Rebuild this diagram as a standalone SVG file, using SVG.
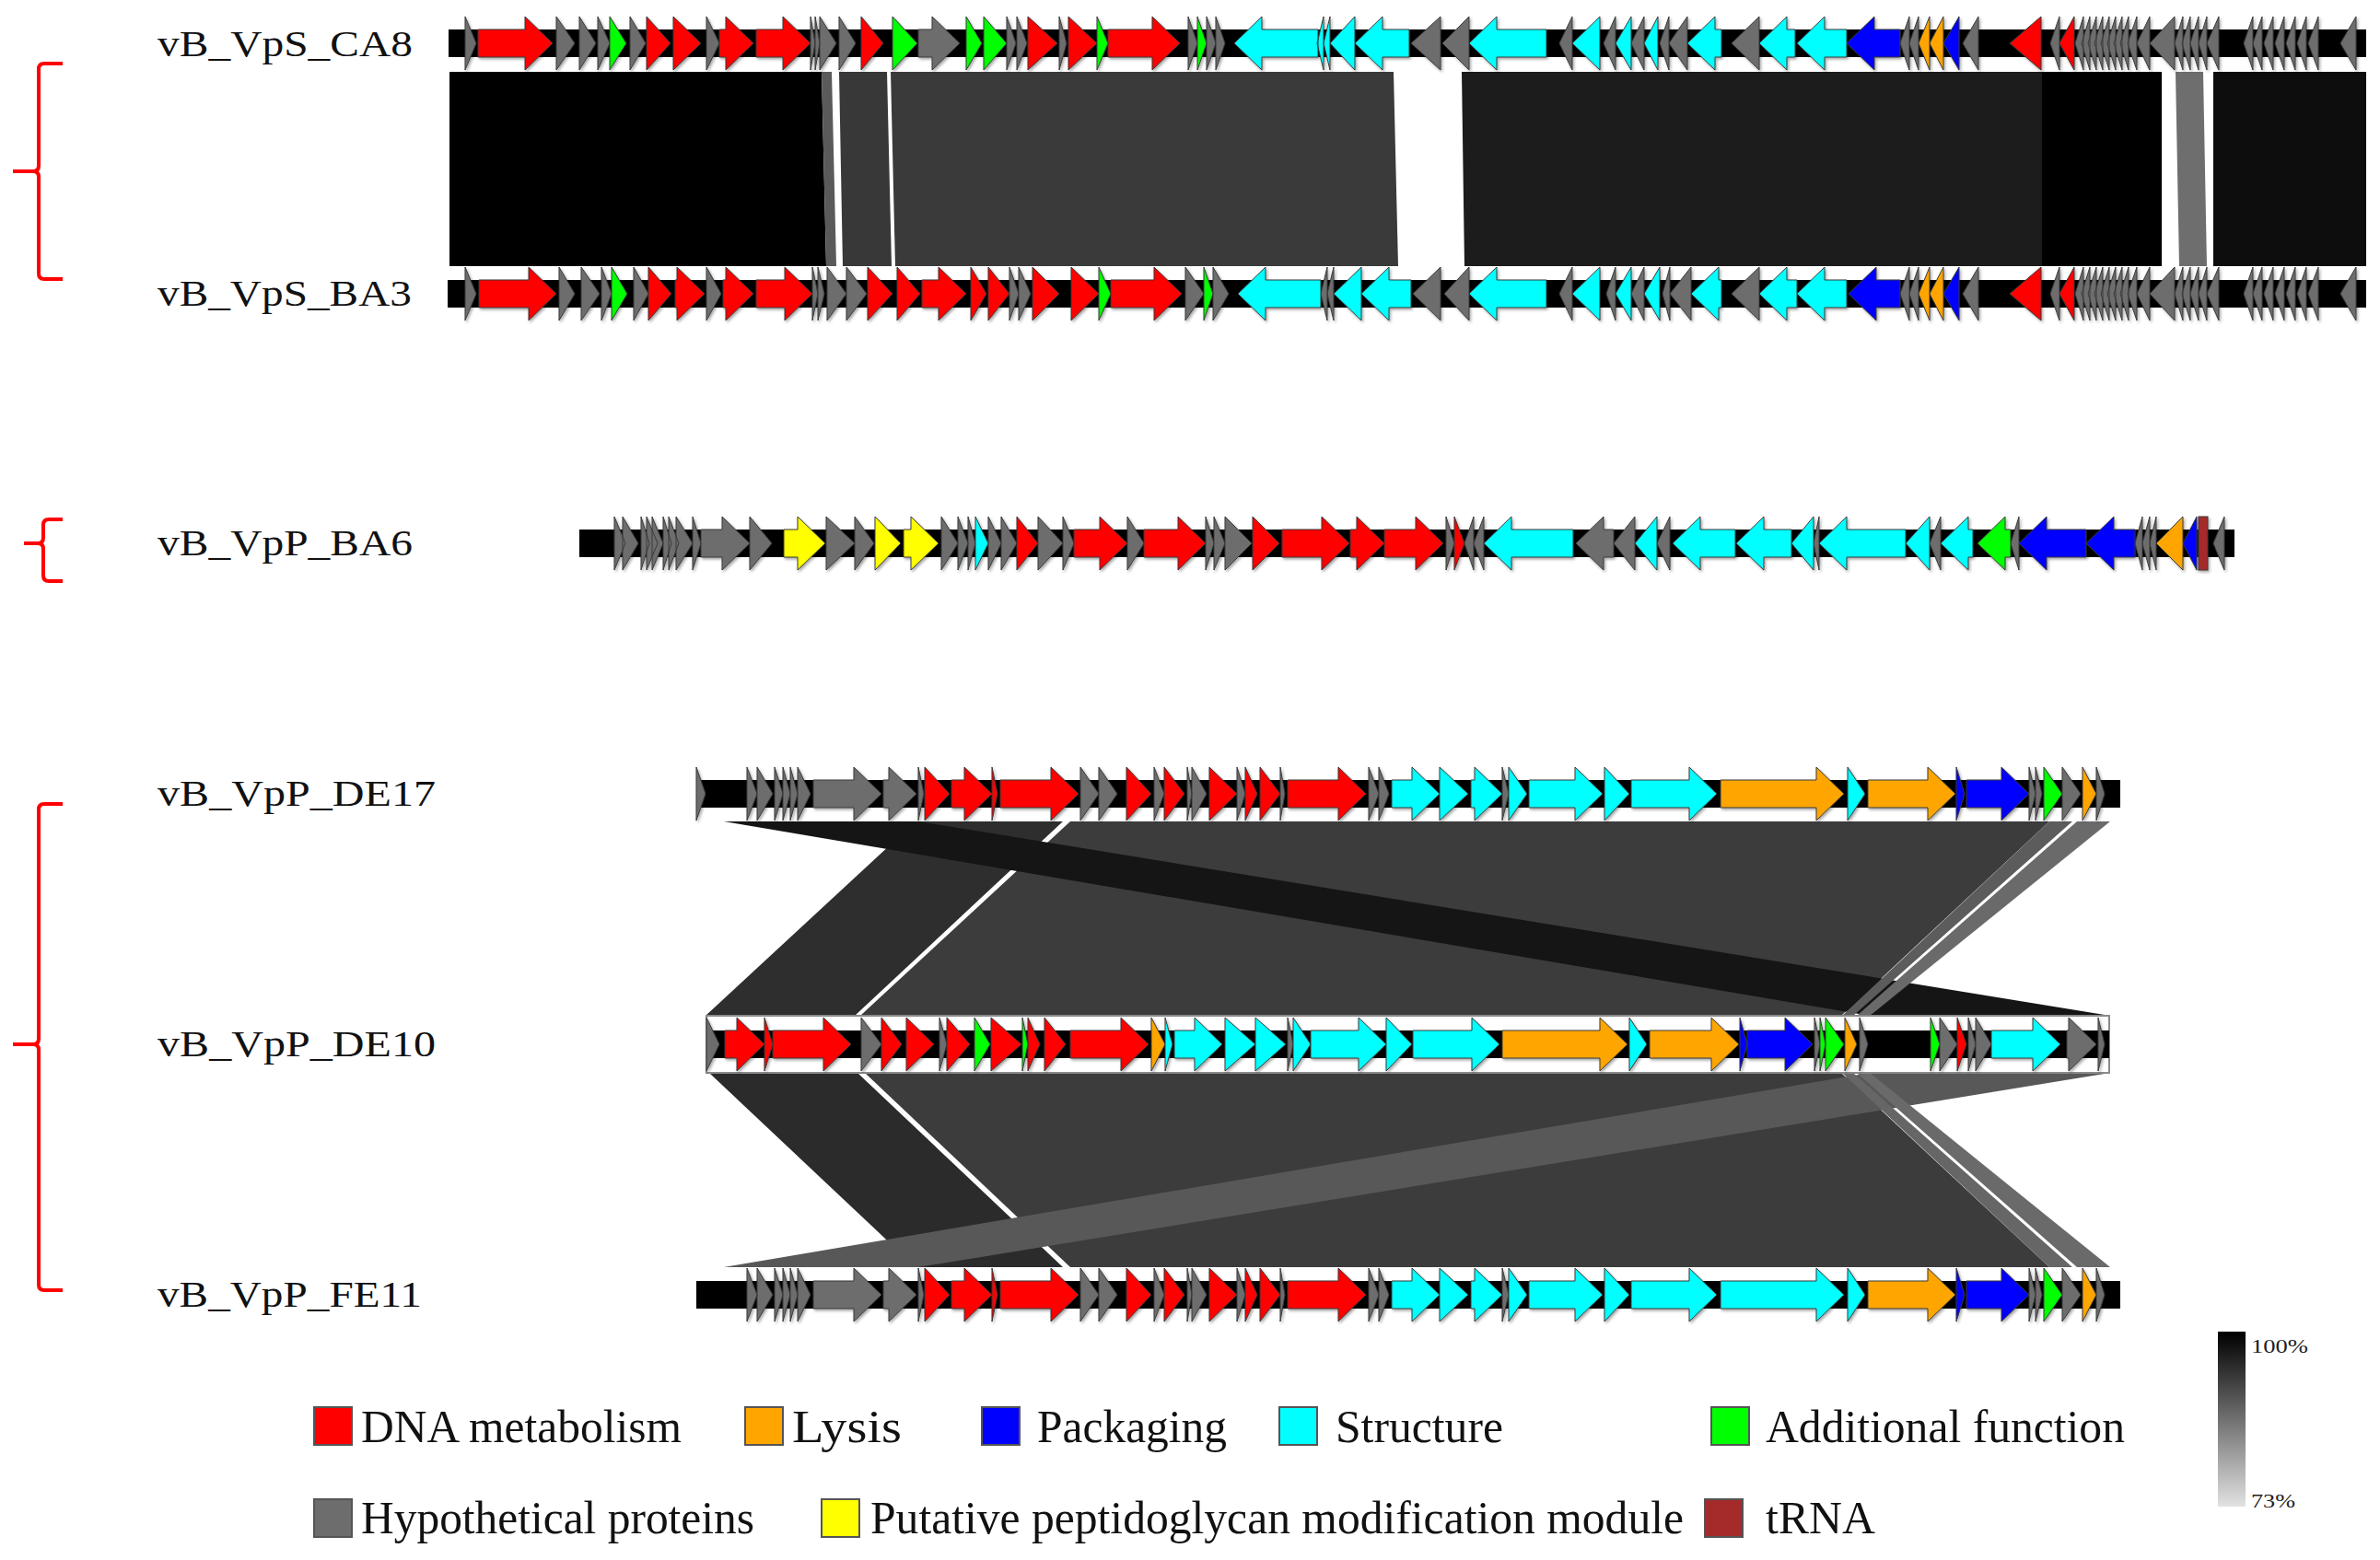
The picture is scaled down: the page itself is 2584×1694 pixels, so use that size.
<svg xmlns="http://www.w3.org/2000/svg" width="2584" height="1694" viewBox="0 0 2584 1694">
<defs>
<style>
.lbl{font-family:"Liberation Serif","Times New Roman",serif;font-size:40px;fill:#111;}
.leg{font-family:"Liberation Serif","Times New Roman",serif;font-size:50px;fill:#111;}
.pct{font-family:"Liberation Serif","Times New Roman",serif;font-size:22px;fill:#222;}
.bar{fill:#000;}
.genes path,.genes rect{stroke:#3a3a3a;stroke-width:1;stroke-linejoin:miter;}
.hy{fill:#6d6d6d;}
.dn{fill:#ff0000;}
.ad{fill:#00ff00;}
.st{fill:#00ffff;}
.pk{fill:#0000ff;}
.ly{fill:#ffa500;}
.pg{fill:#ffff00;}
.tr{fill:#a52a2a;}
.brk{fill:none;stroke:#ff0000;stroke-width:4;stroke-linecap:butt;}
.sq{stroke:#555;stroke-width:2;}
</style>
<filter id="sh" x="-2%" y="-30%" width="104%" height="160%">
<feDropShadow dx="1.5" dy="2" stdDeviation="1.5" flood-color="#000" flood-opacity="0.35"/>
</filter>
<linearGradient id="scale" x1="0" y1="0" x2="0" y2="1">
<stop offset="0" stop-color="#000"/>
<stop offset="0.08" stop-color="#111"/>
<stop offset="0.5" stop-color="#707070"/>
<stop offset="1" stop-color="#e2e2e2"/>
</linearGradient>
</defs>
<rect width="2584" height="1694" fill="#fff"/>

<!-- brackets -->
<g id="brackets">
<path class="brk" d="M68 69 H48 Q42 69 42 75 V180 Q42 186 36 186 H14 M36 186 Q42 186 42 192 V297 Q42 303 48 303 H68"/>
<path class="brk" d="M68 564 H53 Q47 564 47 570 V584 Q47 590 41 590 H26 M41 590 Q47 590 47 596 V625 Q47 631 53 631 H68"/>
<path class="brk" d="M68 873 H48 Q42 873 42 879 V1128 Q42 1134 36 1134 H14 M36 1134 Q42 1134 42 1140 V1395 Q42 1401 48 1401 H68"/>
</g>

<!-- connectors: alignment bands -->
<g id="connectors">
<polygon points="488,78 892,78 897,289 488,289" fill="#000"/>
<polygon points="892,78 903,78 908,289 897,289" fill="#5a5a5a"/>
<polygon points="911,78 963,78 968,289 915,289" fill="#383838"/>
<polygon points="967,78 1513,78 1518,289 972,289" fill="#3a3a3a"/>
<polygon points="1587,78 2217,78 2217,289 1590,289" fill="#1c1c1c"/>
<polygon points="2217,78 2347,78 2347,289 2217,289" fill="#000"/>
<polygon points="2362,78 2392,78 2396,289 2366,289" fill="#6e6e6e"/>
<polygon points="2403,78 2569,78 2569,289 2403,289" fill="#0d0d0d"/>

<polygon points="994,892 1154,892 928,1103 766,1103" fill="#2e2e2e"/>
<polygon points="1162,892 2225,892 1999,1103 934,1103" fill="#3c3c3c"/>
<polygon points="786,892 997,892 2291,1103 2030,1103" fill="#151515"/>
<polygon points="2225,892 2250,892 2012,1103 2000,1103" fill="#5c5c5c"/>
<polygon points="2255,892 2291,892 2030,1103 2016,1103" fill="#6a6a6a"/>

<polygon points="770,1165 931,1165 1154,1376 994,1376" fill="#2b2b2b"/>
<polygon points="939,1165 1999,1165 2225,1376 1162,1376" fill="#3c3c3c"/>
<polygon points="2030,1165 2291,1165 997,1376 786,1376" fill="#585858"/>
<polygon points="2000,1165 2012,1165 2250,1376 2225,1376" fill="#666"/>
<polygon points="2016,1165 2030,1165 2291,1376 2255,1376" fill="#6a6a6a"/>
</g>

<!-- CA8 -->
<g id="CA8">
<text class="lbl" x="171" y="61" textLength="277" lengthAdjust="spacingAndGlyphs">vB_VpS_CA8</text>
<g transform="translate(0,47)">
<rect class="bar" x="487" y="-15" width="2082" height="30"/>
<g class="genes" filter="url(#sh)">
<path class="hy" d="M505 -29L517 0L505 29Z M604 -29L624 0L604 29Z M629 -29L647 0L629 29Z M649 -29L662 0L649 29Z M684 -29L701 0L684 29Z M767 -29L781 0L767 29Z M880 -29L885 0L880 29Z M885 -29L890 0L885 29Z M890 -29L908 0L890 29Z M911 -29L929 0L911 29Z M997 -15H1012V-29L1042 0L1012 29V15H997Z M1093 -29L1103 0L1093 29Z M1104 -29L1115 0L1104 29Z M1150 -29L1158 0L1150 29Z M1290 -29L1300 0L1290 29Z M1310 -29L1320 0L1310 29Z M1320 -29L1330 0L1320 29Z M1564 -29L1532 0L1564 29Z M1595 -29L1566 0L1595 29Z M1707 -29L1693 0L1707 29Z M1754 -29L1741 0L1754 29Z M1785 -29L1771 0L1785 29Z M1812 -29L1802 0L1812 29Z M1832 -29L1812 0L1832 29Z M1910 -29L1880 0L1910 29Z M2073 -29L2063 0L2073 29Z M2083 -29L2073 0L2083 29Z M2148 -29L2131 0L2148 29Z M2236 -29L2226 0L2236 29Z M2262 -29L2253 0L2262 29Z M2269 -29L2260 0L2269 29Z M2276 -29L2267 0L2276 29Z M2283 -29L2274 0L2283 29Z M2290 -29L2281 0L2290 29Z M2297 -29L2288 0L2297 29Z M2304 -29L2295 0L2304 29Z M2311 -29L2302 0L2311 29Z M2320 -29L2310 0L2320 29Z M2334 -29L2320 0L2334 29Z M2361 -29L2334 0L2361 29Z M2370 -29L2361 0L2370 29Z M2378 -29L2369 0L2378 29Z M2387 -29L2378 0L2387 29Z M2396 -29L2387 0L2396 29Z M2409 -29L2396 0L2409 29Z M2446 -29L2436 0L2446 29Z M2456 -29L2446 0L2456 29Z M2468 -29L2458 0L2468 29Z M2480 -29L2470 0L2480 29Z M2492 -29L2482 0L2492 29Z M2504 -29L2494 0L2504 29Z M2517 -29L2506 0L2517 29Z M2558 -29L2541 0L2558 29Z"/>
<path class="dn" d="M519 -15H570V-29L600 0L570 29V15H519Z M702 -29L728 0L702 29Z M731 -29L761 0L731 29Z M781 -15H788V-29L818 0L788 29V15H781Z M821 -15H850V-29L880 0L850 29V15H821Z M935 -29L959 0L935 29Z M1116 -29L1148 0L1116 29Z M1160 -29L1191 0L1160 29Z M1203 -15H1251V-29L1281 0L1251 29V15H1203Z M2216 -29L2182 0L2216 29Z M2252 -29L2236 0L2252 29Z"/>
<path class="ad" d="M662 -29L680 0L662 29Z M969 -29L996 0L969 29Z M1049 -29L1066 0L1049 29Z M1068 -29L1093 0L1068 29Z M1191 -29L1203 0L1191 29Z M1300 -29L1310 0L1300 29Z"/>
<path class="st" d="M1431 -15H1370V-29L1340 0L1370 29V15H1431Z M1437 -29L1430 0L1437 29Z M1444 -29L1437 0L1444 29Z M1471 -29L1444 0L1471 29Z M1530 -15H1501V-29L1471 0L1501 29V15H1530Z M1679 -15H1625V-29L1595 0L1625 29V15H1679Z M1737 -29L1707 0L1737 29Z M1771 -29L1754 0L1771 29Z M1800 -29L1785 0L1800 29Z M1869 -15H1862V-29L1832 0L1862 29V15H1869Z M1949 -15H1940V-29L1910 0L1940 29V15H1949Z M2005 -15H1981V-29L1951 0L1981 29V15H2005Z"/>
<path class="pk" d="M2063 -15H2035V-29L2005 0L2035 29V15H2063Z M2127 -29L2110 0L2127 29Z"/>
<path class="ly" d="M2095 -29L2083 0L2095 29Z M2110 -29L2095 0L2110 29Z"/>
</g>
</g>
</g>

<!-- BA3 -->
<g id="BA3">
<text class="lbl" x="171" y="332" textLength="276" lengthAdjust="spacingAndGlyphs">vB_VpS_BA3</text>
<g transform="translate(0,319)">
<rect class="bar" x="486" y="-15" width="2083" height="30"/>
<g class="genes" filter="url(#sh)">
<path class="hy" d="M505 -29L517 0L505 29Z M607 -29L624 0L607 29Z M631 -29L651 0L631 29Z M653 -29L664 0L653 29Z M688 -29L704 0L688 29Z M767 -29L783 0L767 29Z M882 -29L888 0L882 29Z M888 -29L895 0L888 29Z M898 -29L919 0L898 29Z M919 -29L941 0L919 29Z M1096 -29L1106 0L1096 29Z M1106 -29L1119 0L1106 29Z M1287 -29L1307 0L1287 29Z M1317 -29L1334 0L1317 29Z M1441 -29L1434 0L1441 29Z M1448 -29L1441 0L1448 29Z M1564 -29L1534 0L1564 29Z M1595 -29L1568 0L1595 29Z M1707 -29L1693 0L1707 29Z M1754 -29L1744 0L1754 29Z M1785 -29L1771 0L1785 29Z M1813 -29L1805 0L1813 29Z M1836 -29L1813 0L1836 29Z M1910 -29L1880 0L1910 29Z M2073 -29L2063 0L2073 29Z M2083 -29L2073 0L2083 29Z M2148 -29L2131 0L2148 29Z M2236 -29L2226 0L2236 29Z M2262 -29L2253 0L2262 29Z M2269 -29L2260 0L2269 29Z M2276 -29L2267 0L2276 29Z M2283 -29L2274 0L2283 29Z M2290 -29L2281 0L2290 29Z M2297 -29L2288 0L2297 29Z M2304 -29L2295 0L2304 29Z M2311 -29L2302 0L2311 29Z M2320 -29L2310 0L2320 29Z M2334 -29L2320 0L2334 29Z M2361 -29L2334 0L2361 29Z M2370 -29L2361 0L2370 29Z M2378 -29L2369 0L2378 29Z M2387 -29L2378 0L2387 29Z M2396 -29L2387 0L2396 29Z M2409 -29L2396 0L2409 29Z M2446 -29L2436 0L2446 29Z M2456 -29L2446 0L2456 29Z M2468 -29L2458 0L2468 29Z M2480 -29L2470 0L2480 29Z M2492 -29L2482 0L2492 29Z M2504 -29L2494 0L2504 29Z M2517 -29L2506 0L2517 29Z M2558 -29L2541 0L2558 29Z"/>
<path class="dn" d="M520 -15H574V-29L604 0L574 29V15H520Z M704 -29L729 0L704 29Z M733 -15H735V-29L765 0L735 29V15H733Z M785 -15H788V-29L818 0L788 29V15H785Z M821 -15H852V-29L882 0L852 29V15H821Z M942 -29L969 0L942 29Z M974 -29L999 0L974 29Z M1001 -15H1019V-29L1049 0L1019 29V15H1001Z M1054 -29L1071 0L1054 29Z M1073 -29L1096 0L1073 29Z M1121 -29L1150 0L1121 29Z M1163 -29L1193 0L1163 29Z M1206 -15H1253V-29L1283 0L1253 29V15H1206Z M2216 -29L2182 0L2216 29Z M2252 -29L2236 0L2252 29Z"/>
<path class="ad" d="M664 -29L681 0L664 29Z M1193 -29L1206 0L1193 29Z M1307 -29L1317 0L1307 29Z"/>
<path class="st" d="M1434 -15H1374V-29L1344 0L1374 29V15H1434Z M1478 -29L1448 0L1478 29Z M1532 -15H1508V-29L1478 0L1508 29V15H1532Z M1679 -15H1625V-29L1595 0L1625 29V15H1679Z M1737 -29L1707 0L1737 29Z M1771 -29L1754 0L1771 29Z M1802 -29L1785 0L1802 29Z M1869 -15H1866V-29L1836 0L1866 29V15H1869Z M1951 -15H1940V-29L1910 0L1940 29V15H1951Z M2005 -15H1981V-29L1951 0L1981 29V15H2005Z"/>
<path class="pk" d="M2063 -15H2037V-29L2007 0L2037 29V15H2063Z M2127 -29L2110 0L2127 29Z"/>
<path class="ly" d="M2095 -29L2083 0L2095 29Z M2110 -29L2095 0L2110 29Z"/>
</g>
</g>
</g>

<!-- BA6 -->
<g id="BA6">
<text class="lbl" x="171" y="603" textLength="277" lengthAdjust="spacingAndGlyphs">vB_VpP_BA6</text>
<g transform="translate(0,590)">
<rect class="bar" x="629" y="-15" width="1797" height="30"/>
<g class="genes" filter="url(#sh)">
<path class="hy" d="M667 -29L679 0L667 29Z M676 -29L693 0L676 29Z M696 -29L705 0L696 29Z M702 -29L714 0L702 29Z M708 -29L720 0L708 29Z M720 -29L729 0L720 29Z M726 -29L737 0L726 29Z M734 -29L752 0L734 29Z M752 -29L761 0L752 29Z M761 -15H784V-29L814 0L784 29V15H761Z M814 -29L838 0L814 29Z M897 -29L928 0L897 29Z M928 -29L949 0L928 29Z M1022 -29L1040 0L1022 29Z M1040 -29L1051 0L1040 29Z M1051 -29L1059 0L1051 29Z M1073 -29L1087 0L1073 29Z M1087 -29L1104 0L1087 29Z M1127 -29L1154 0L1127 29Z M1154 -29L1166 0L1154 29Z M1224 -29L1242 0L1224 29Z M1309 -29L1318 0L1309 29Z M1318 -29L1330 0L1318 29Z M1330 -29L1359 0L1330 29Z M1570 -29L1579 0L1570 29Z M1600 -29L1590 0L1600 29Z M1611 -29L1600 0L1611 29Z M1752 -15H1741V-29L1711 0L1741 29V15H1752Z M1775 -29L1752 0L1775 29Z M1813 -29L1799 0L1813 29Z M1975 -29L1969 0L1975 29Z M2107 -29L2095 0L2107 29Z M2192 -29L2183 0L2192 29Z M2326 -29L2318 0L2326 29Z M2334 -29L2326 0L2334 29Z M2341 -29L2334 0L2341 29Z M2415 -29L2403 0L2415 29Z"/>
<path class="pg" d="M851 -15H866V-29L896 0L866 29V15H851Z M950 -29L978 0L950 29Z M981 -15H989V-29L1019 0L989 29V15H981Z"/>
<path class="st" d="M1059 -29L1073 0L1059 29Z M1708 -15H1641V-29L1611 0L1641 29V15H1708Z M1799 -29L1775 0L1799 29Z M1884 -15H1846V-29L1816 0L1846 29V15H1884Z M1945 -15H1915V-29L1885 0L1915 29V15H1945Z M1969 -29L1945 0L1969 29Z M2069 -15H2005V-29L1975 0L2005 29V15H2069Z M2095 -29L2069 0L2095 29Z M2142 -15H2137V-29L2107 0L2137 29V15H2142Z"/>
<path class="dn" d="M1104 -29L1127 0L1104 29Z M1166 -15H1194V-29L1224 0L1194 29V15H1166Z M1242 -15H1279V-29L1309 0L1279 29V15H1242Z M1360 -29L1389 0L1360 29Z M1392 -15H1435V-29L1465 0L1435 29V15H1392Z M1466 -15H1473V-29L1503 0L1473 29V15H1466Z M1503 -15H1537V-29L1567 0L1537 29V15H1503Z M1579 -29L1590 0L1579 29Z"/>
<path class="ad" d="M2183 -15H2177V-29L2147 0L2177 29V15H2183Z"/>
<path class="pk" d="M2265 -15H2222V-29L2192 0L2222 29V15H2265Z M2318 -15H2295V-29L2265 0L2295 29V15H2318Z M2385 -29L2370 0L2385 29Z"/>
<path class="ly" d="M2370 -29L2341 0L2370 29Z"/>
<rect class="tr" x="2387" y="-29" width="10" height="58"/>
</g>
</g>
</g>

<!-- DE17 -->
<g id="DE17">
<text class="lbl" x="171" y="875" textLength="302" lengthAdjust="spacingAndGlyphs">vB_VpP_DE17</text>
<g transform="translate(0,862)">
<rect class="bar" x="756" y="-15" width="1546" height="30"/>
<g class="genes" filter="url(#sh)">
<path class="hy" d="M756 -29L766 0L756 29Z M811 -29L822 0L811 29Z M822 -29L839 0L822 29Z M841 -29L850 0L841 29Z M850 -29L858 0L850 29Z M858 -29L866 0L858 29Z M866 -29L880 0L866 29Z M883 -15H927V-29L957 0L927 29V15H883Z M959 -15H965V-29L995 0L965 29V15H959Z M997 -29L1003 0L997 29Z M1173 -29L1193 0L1173 29Z M1193 -29L1213 0L1193 29Z M1253 -29L1264 0L1253 29Z M1289 -29L1294 0L1289 29Z M1294 -29L1310 0L1294 29Z M1343 -29L1352 0L1343 29Z M1390 -29L1395 0L1390 29Z M1486 -29L1497 0L1486 29Z M1497 -29L1508 0L1497 29Z M1631 -29L1638 0L1631 29Z M2203 -29L2210 0L2203 29Z M2210 -29L2217 0L2210 29Z M2239 -29L2259 0L2239 29Z M2276 -29L2285 0L2276 29Z"/>
<path class="dn" d="M1004 -29L1031 0L1004 29Z M1033 -15H1047V-29L1077 0L1047 29V15H1033Z M1077 -29L1083 0L1077 29Z M1086 -15H1141V-29L1171 0L1141 29V15H1086Z M1223 -29L1250 0L1223 29Z M1264 -29L1286 0L1264 29Z M1313 -29L1343 0L1313 29Z M1352 -29L1365 0L1352 29Z M1368 -29L1390 0L1368 29Z M1398 -15H1453V-29L1483 0L1453 29V15H1398Z"/>
<path class="st" d="M1511 -15H1533V-29L1563 0L1533 29V15H1511Z M1563 -29L1594 0L1563 29Z M1597 -15H1601V-29L1631 0L1601 29V15H1597Z M1638 -29L1658 0L1638 29Z M1660 -15H1710V-29L1740 0L1710 29V15H1660Z M1742 -29L1769 0L1742 29Z M1771 -15H1834V-29L1864 0L1834 29V15H1771Z M2006 -29L2025 0L2006 29Z"/>
<path class="ly" d="M1868 -15H1972V-29L2002 0L1972 29V15H1868Z M2028 -15H2093V-29L2123 0L2093 29V15H2028Z M2261 -29L2276 0L2261 29Z"/>
<path class="pk" d="M2124 -29L2133 0L2124 29Z M2135 -15H2173V-29L2203 0L2173 29V15H2135Z"/>
<path class="ad" d="M2219 -29L2239 0L2219 29Z"/>
</g>
</g>
</g>

<!-- DE10 -->
<g id="DE10">
<text class="lbl" x="171" y="1147" textLength="302" lengthAdjust="spacingAndGlyphs">vB_VpP_DE10</text>
<g transform="translate(0,1134)">
<rect x="767" y="-31" width="1523" height="62" fill="#fff" stroke="#8a8a8a" stroke-width="2"/>
<rect class="bar" x="767" y="-15" width="1523" height="30"/>
<g class="genes" filter="url(#sh)">
<path class="hy" d="M767 -29L781 0L767 29Z M935 -29L957 0L935 29Z M1020 -29L1028 0L1020 29Z M1398 -29L1404 0L1398 29Z M1970 -29L1976 0L1970 29Z M2019 -29L2028 0L2019 29Z M2106 -29L2125 0L2106 29Z M2137 -29L2145 0L2137 29Z M2145 -29L2162 0L2145 29Z M2244 -15H2246V-29L2276 0L2246 29V15H2244Z M2278 -29L2285 0L2278 29Z"/>
<path class="dn" d="M787 -15H800V-29L830 0L800 29V15H787Z M830 -29L839 0L830 29Z M839 -15H894V-29L924 0L894 29V15H839Z M957 -29L979 0L957 29Z M984 -29L1014 0L984 29Z M1028 -29L1053 0L1028 29Z M1076 -29L1109 0L1076 29Z M1116 -29L1129 0L1116 29Z M1134 -29L1157 0L1134 29Z M1162 -15H1217V-29L1247 0L1217 29V15H1162Z M2125 -29L2135 0L2125 29Z"/>
<path class="ad" d="M1058 -29L1075 0L1058 29Z M1110 -29L1116 0L1110 29Z M1976 -29L1982 0L1976 29Z M1982 -29L2002 0L1982 29Z M2096 -29L2106 0L2096 29Z"/>
<path class="ly" d="M1250 -29L1265 0L1250 29Z M1631 -15H1737V-29L1767 0L1737 29V15H1631Z M1791 -15H1858V-29L1888 0L1858 29V15H1791Z M2003 -29L2016 0L2003 29Z"/>
<path class="st" d="M1265 -29L1273 0L1265 29Z M1275 -15H1297V-29L1327 0L1297 29V15H1275Z M1330 -29L1363 0L1330 29Z M1363 -29L1396 0L1363 29Z M1404 -29L1423 0L1404 29Z M1423 -15H1475V-29L1505 0L1475 29V15H1423Z M1505 -29L1533 0L1505 29Z M1534 -15H1598V-29L1628 0L1598 29V15H1534Z M1769 -29L1788 0L1769 29Z M2162 -15H2207V-29L2237 0L2207 29V15H2162Z"/>
<path class="pk" d="M1889 -29L1897 0L1889 29Z M1897 -15H1938V-29L1968 0L1938 29V15H1897Z"/>
</g>
</g>
</g>

<!-- FE11 -->
<g id="FE11">
<text class="lbl" x="171" y="1419" textLength="287" lengthAdjust="spacingAndGlyphs">vB_VpP_FE11</text>
<g transform="translate(0,1406)">
<rect class="bar" x="756" y="-15" width="1546" height="30"/>
<g class="genes" filter="url(#sh)">
<path class="hy" d="M811 -29L822 0L811 29Z M822 -29L839 0L822 29Z M841 -29L850 0L841 29Z M850 -29L858 0L850 29Z M858 -29L866 0L858 29Z M866 -29L880 0L866 29Z M883 -15H927V-29L957 0L927 29V15H883Z M959 -15H965V-29L995 0L965 29V15H959Z M997 -29L1003 0L997 29Z M1173 -29L1193 0L1173 29Z M1193 -29L1213 0L1193 29Z M1253 -29L1264 0L1253 29Z M1289 -29L1294 0L1289 29Z M1294 -29L1310 0L1294 29Z M1343 -29L1352 0L1343 29Z M1390 -29L1395 0L1390 29Z M1486 -29L1497 0L1486 29Z M1497 -29L1508 0L1497 29Z M1631 -29L1638 0L1631 29Z M2203 -29L2210 0L2203 29Z M2210 -29L2217 0L2210 29Z M2239 -29L2259 0L2239 29Z M2276 -29L2285 0L2276 29Z"/>
<path class="dn" d="M1004 -29L1031 0L1004 29Z M1033 -15H1047V-29L1077 0L1047 29V15H1033Z M1077 -29L1083 0L1077 29Z M1086 -15H1141V-29L1171 0L1141 29V15H1086Z M1223 -29L1250 0L1223 29Z M1264 -29L1286 0L1264 29Z M1313 -29L1343 0L1313 29Z M1352 -29L1365 0L1352 29Z M1368 -29L1390 0L1368 29Z M1398 -15H1453V-29L1483 0L1453 29V15H1398Z"/>
<path class="st" d="M1511 -15H1533V-29L1563 0L1533 29V15H1511Z M1563 -29L1594 0L1563 29Z M1597 -15H1601V-29L1631 0L1601 29V15H1597Z M1638 -29L1658 0L1638 29Z M1660 -15H1710V-29L1740 0L1710 29V15H1660Z M1742 -29L1769 0L1742 29Z M1771 -15H1834V-29L1864 0L1834 29V15H1771Z M1868 -15H1972V-29L2002 0L1972 29V15H1868Z M2006 -29L2025 0L2006 29Z"/>
<path class="ly" d="M2028 -15H2093V-29L2123 0L2093 29V15H2028Z M2261 -29L2276 0L2261 29Z"/>
<path class="pk" d="M2124 -29L2133 0L2124 29Z M2135 -15H2173V-29L2203 0L2173 29V15H2135Z"/>
<path class="ad" d="M2219 -29L2239 0L2219 29Z"/>
</g>
</g>
</g>

<!-- legend -->
<g id="legend">
<rect class="sq" x="341" y="1528" width="41" height="41" fill="#ff0000"/>
<text class="leg" x="392" y="1566" textLength="348" lengthAdjust="spacingAndGlyphs">DNA metabolism</text>
<rect class="sq" x="809" y="1528" width="41" height="41" fill="#ffa500"/>
<text class="leg" x="860" y="1566" textLength="119" lengthAdjust="spacingAndGlyphs">Lysis</text>
<rect class="sq" x="1066" y="1528" width="41" height="41" fill="#0000ff"/>
<text class="leg" x="1126" y="1566" textLength="206" lengthAdjust="spacingAndGlyphs">Packaging</text>
<rect class="sq" x="1389" y="1528" width="41" height="41" fill="#00ffff"/>
<text class="leg" x="1450" y="1566" textLength="182" lengthAdjust="spacingAndGlyphs">Structure</text>
<rect class="sq" x="1858" y="1528" width="41" height="41" fill="#00ff00"/>
<text class="leg" x="1917" y="1566" textLength="390" lengthAdjust="spacingAndGlyphs">Additional function</text>
<rect class="sq" x="341" y="1628" width="41" height="41" fill="#6d6d6d"/>
<text class="leg" x="392" y="1665" textLength="427" lengthAdjust="spacingAndGlyphs">Hypothetical proteins</text>
<rect class="sq" x="892" y="1628" width="41" height="41" fill="#ffff00"/>
<text class="leg" x="945" y="1665" textLength="883" lengthAdjust="spacingAndGlyphs">Putative peptidoglycan modification module</text>
<rect class="sq" x="1851" y="1628" width="41" height="41" fill="#a52a2a"/>
<text class="leg" x="1917" y="1665" textLength="119" lengthAdjust="spacingAndGlyphs">tRNA</text>
</g>

<!-- identity scale -->
<g id="scale-bar">
<rect x="2408" y="1446" width="30" height="190" fill="url(#scale)"/>
<text class="pct" x="2444" y="1469" textLength="62" lengthAdjust="spacingAndGlyphs">100%</text>
<text class="pct" x="2444" y="1637" textLength="48" lengthAdjust="spacingAndGlyphs">73%</text>
</g>
</svg>
